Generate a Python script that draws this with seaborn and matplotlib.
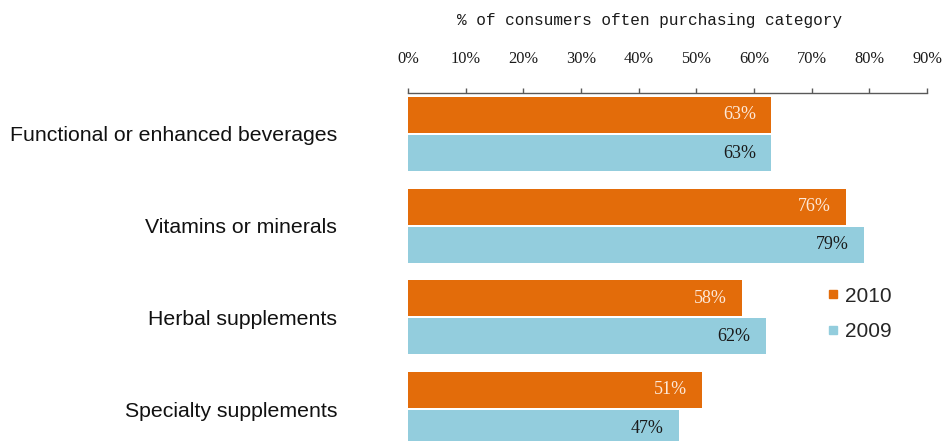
import matplotlib
matplotlib.use("Agg")
import matplotlib.pyplot as plt
from matplotlib.lines import Line2D
import pandas as pd
import seaborn as sns

# Data
categories = [
    "Functional or enhanced beverages",
    "Vitamins or minerals",
    "Herbal supplements",
    "Specialty supplements",
]
years = ["2010", "2009"]
share_2010 = [63, 76, 58, 51]
share_2009 = [63, 79, 62, 47]
tick_values = [0, 10, 20, 30, 40, 50, 60, 70, 80, 90]
tick_labels = [f"{v}%" for v in tick_values]
axis_title = "% of consumers often purchasing category"

palette = {"2010": "#E36C0A", "2009": "#93CDDD"}
label_colors = {"2010": "#FDE9D9", "2009": "#1A1A1A"}

df = pd.DataFrame({
    "category": categories * 2,
    "year": [years[0]] * len(categories) + [years[1]] * len(categories),
    "share": share_2010 + share_2009,
})

sns.set_theme(style="white")
plt.rcParams["font.family"] = ["Liberation Sans", "DejaVu Sans"]

W, H = 942, 441
fig = plt.figure(figsize=(W / 100, H / 100), dpi=100)
left, right, top = 408 / W, 927 / W, 1 - 93 / H
ax = fig.add_axes([left, 0, right - left, top])

sns.barplot(
    data=df, x="share", y="category", hue="year",
    order=categories, hue_order=years, palette=palette,
    orient="h", width=0.83, gap=0.05, linewidth=0,
    saturation=1, ax=ax, legend=False,
)

ax.set_xlim(0, 90)
ax.set_ylim(3.349, -0.447)

# Axis on top
ax.xaxis.tick_top()
ax.xaxis.set_label_position("top")
ax.set_xticks(tick_values)
ax.set_xticklabels(tick_labels, family="Liberation Serif", fontsize=11.8, color="#1A1A1A")
ax.tick_params(axis="x", direction="out", length=3.6, width=1, color="#595959", pad=15)
ax.set_xlabel(axis_title, family="Liberation Mono", fontsize=11.6, color="#1A1A1A")
ax.xaxis.set_label_coords(0.465, 1 + 68 / (top * H))

ax.set_ylabel("")
ax.tick_params(axis="y", length=0, pad=51)
for lbl in ax.get_yticklabels():
    lbl.set_fontsize(15.3)
    lbl.set_color("#111111")

for side in ["left", "right", "bottom"]:
    ax.spines[side].set_visible(False)
ax.spines["top"].set_color("#595959")
ax.spines["top"].set_linewidth(1)

# Value labels inside the bar ends
for container, year in zip(ax.containers, years):
    for patch in container:
        val = patch.get_width()
        ax.annotate(
            f"{val:.0f}%",
            xy=(val, patch.get_y() + patch.get_height() / 2),
            xytext=(-11, 0), textcoords="offset points",
            ha="right", va="center",
            family="Liberation Serif", fontsize=13, color=label_colors[year],
        )

handles = [
    Line2D([], [], marker="s", linestyle="", markersize=6.3,
           markerfacecolor=palette[y], markeredgecolor=palette[y])
    for y in years
]
fig.legend(
    handles, years, loc="center left",
    bbox_to_anchor=(816 / W, 1 - 314 / H),
    frameon=False, fontsize=15, handlelength=0.6,
    handletextpad=0.3, labelspacing=0.8, borderpad=0,
)

fig.savefig("out.png", dpi=100)
